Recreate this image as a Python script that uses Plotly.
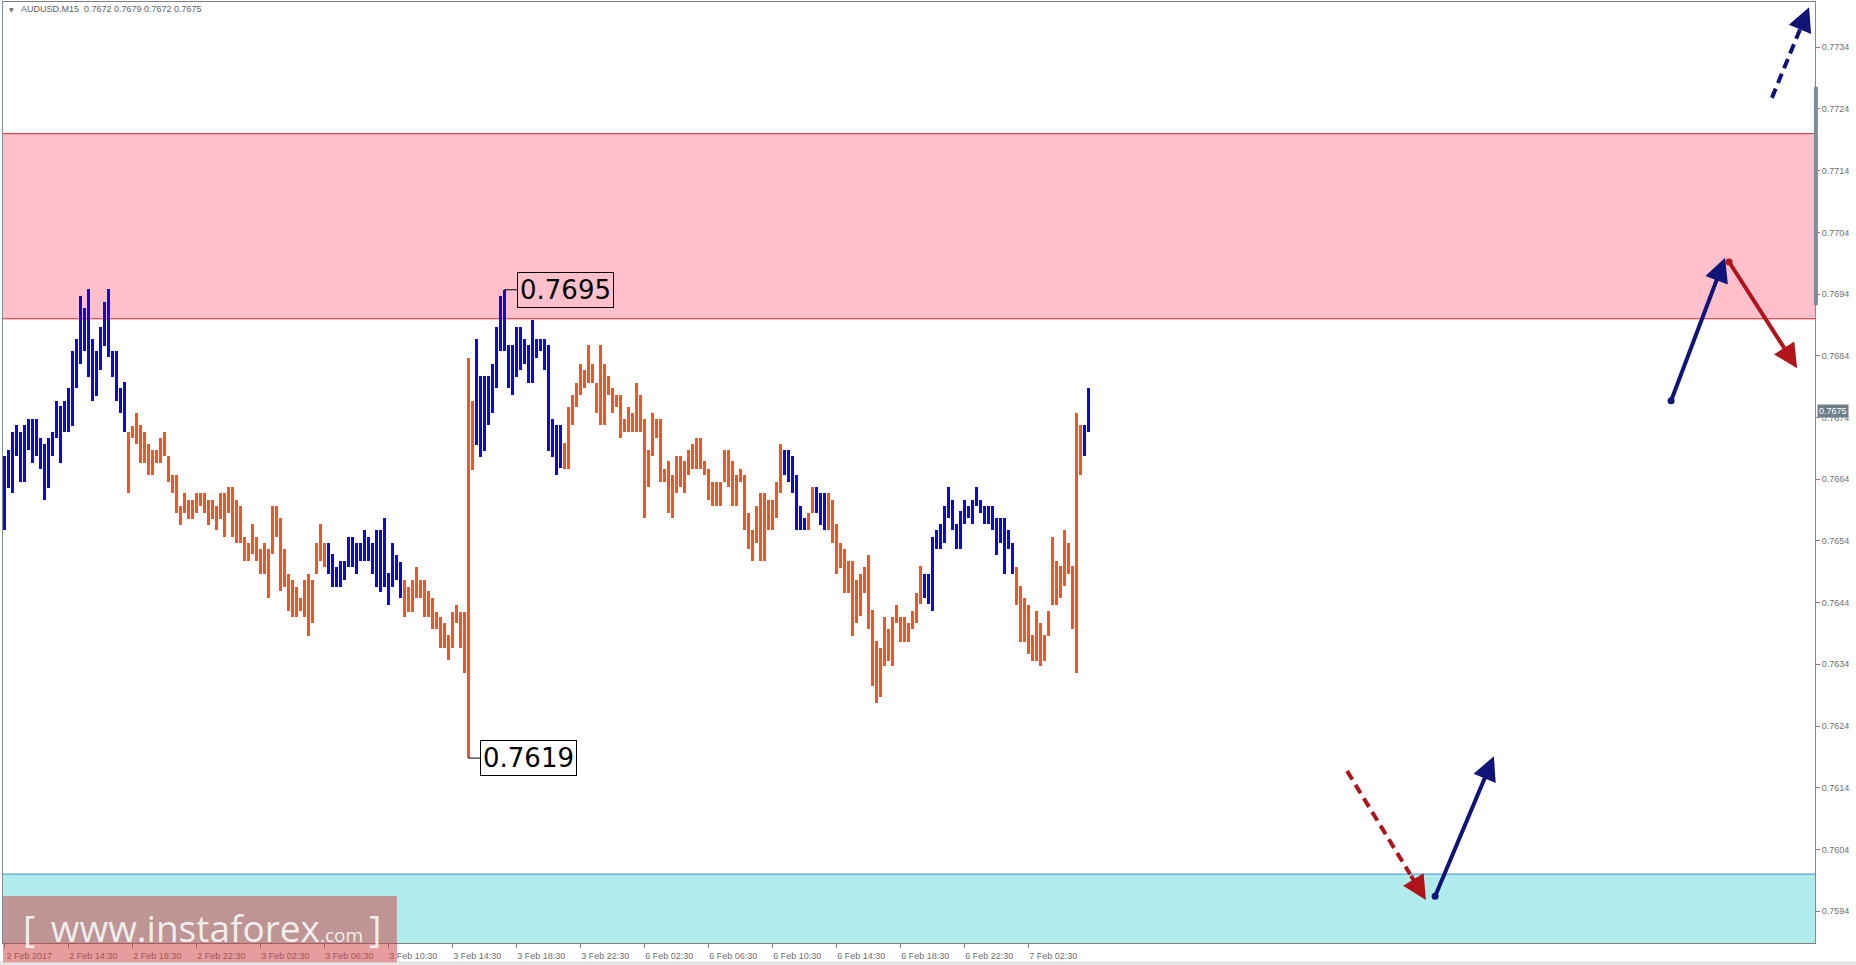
import plotly.graph_objects as go

# ---------------- data ----------------
high = [0.76678, 0.76687, 0.76716, 0.76728, 0.76716, 0.76728, 0.76737, 0.76737, 0.76737, 0.76706,
        0.76697, 0.76706, 0.76716, 0.76766, 0.76758, 0.76766, 0.76787, 0.76848, 0.76867, 0.76937,
        0.76917, 0.76948, 0.76867, 0.76848, 0.76886, 0.76928, 0.76948, 0.76848, 0.76848, 0.76787,
        0.76797, 0.76716, 0.76727, 0.76747, 0.76728, 0.76716, 0.76697, 0.76687, 0.76687, 0.76706,
        0.76716, 0.76677, 0.76647, 0.76647, 0.76597, 0.76618, 0.76607, 0.76607, 0.76618, 0.76618,
        0.76618, 0.76607, 0.76607, 0.76597, 0.76618, 0.76618, 0.76627, 0.76627, 0.76607, 0.76597,
        0.76546, 0.76537, 0.76567, 0.76546, 0.76527, 0.76537, 0.76527, 0.76597, 0.76597, 0.76577,
        0.76527, 0.76486, 0.76477, 0.76466, 0.76447, 0.76477, 0.76486, 0.76477, 0.76537, 0.76567,
        0.76537, 0.76537, 0.76518, 0.76497, 0.76507, 0.76507, 0.76546, 0.76546, 0.76537, 0.76537,
        0.76558, 0.76546, 0.76537, 0.76558, 0.76558, 0.76577, 0.76488, 0.76536, 0.76517, 0.76506,
        0.76477, 0.76466, 0.76477, 0.76497, 0.76477, 0.76477, 0.76458, 0.76447, 0.76425, 0.76417,
        0.76407, 0.76388, 0.76425, 0.76436, 0.76425, 0.76425, 0.76837, 0.76767, 0.76867, 0.76807,
        0.76807, 0.76807, 0.76827, 0.76887, 0.76937, 0.76947, 0.76857, 0.76857, 0.76887, 0.76887,
        0.76867, 0.76857, 0.76898, 0.76867, 0.76867, 0.76867, 0.76857, 0.76737, 0.76728, 0.76728,
        0.76698, 0.76757, 0.76776, 0.76796, 0.76827, 0.76817, 0.76857, 0.76827, 0.76796, 0.76857,
        0.76827, 0.76807, 0.76787, 0.76776, 0.76776, 0.76737, 0.76757, 0.76747, 0.76796, 0.76776,
        0.76737, 0.76688, 0.76747, 0.76737, 0.76737, 0.76656, 0.76669, 0.76647, 0.76678, 0.76678,
        0.76669, 0.76688, 0.76697, 0.76706, 0.76706, 0.76669, 0.76656, 0.76636, 0.76636, 0.76636,
        0.76688, 0.76688, 0.76669, 0.76647, 0.76656, 0.76647, 0.76586, 0.76557, 0.76597, 0.76617,
        0.76617, 0.76607, 0.76607, 0.76636, 0.76697, 0.76688, 0.76688, 0.76678, 0.76647, 0.76597,
        0.76577, 0.76586, 0.76627, 0.76627, 0.76617, 0.76617, 0.76617, 0.76607, 0.76568, 0.76536,
        0.76527, 0.76507, 0.76507, 0.76477, 0.76486, 0.76498, 0.76517, 0.76428, 0.76377, 0.76366,
        0.76417, 0.76397, 0.76417, 0.76436, 0.76417, 0.76417, 0.76407, 0.76427, 0.76456, 0.76499,
        0.76486, 0.76486, 0.76547, 0.76558, 0.76568, 0.76597, 0.76627, 0.76607, 0.76568, 0.76588,
        0.76607, 0.76597, 0.76607, 0.76627, 0.76607, 0.76597, 0.76597, 0.76597, 0.76577, 0.76577,
        0.76577, 0.76557, 0.76536, 0.76497, 0.76467, 0.76447, 0.76436, 0.76388, 0.76427, 0.76407,
        0.76388, 0.76427, 0.76547, 0.76507, 0.76499, 0.76558, 0.76536, 0.76499, 0.76747, 0.76728,
        0.76728, 0.76787]

low = [0.76558, 0.76625, 0.76617, 0.76677, 0.76636, 0.76636, 0.76687, 0.76667, 0.76677, 0.76656,
       0.76606, 0.76626, 0.76677, 0.76706, 0.76667, 0.76716, 0.76716, 0.76727, 0.76787, 0.76826,
       0.76847, 0.76806, 0.76766, 0.76775, 0.76817, 0.76856, 0.76838, 0.76806, 0.76766, 0.76747,
       0.76716, 0.76617, 0.76706, 0.76697, 0.76667, 0.76667, 0.76647, 0.76647, 0.76667, 0.76667,
       0.76677, 0.76636, 0.76617, 0.76586, 0.76566, 0.76586, 0.76576, 0.76576, 0.76586, 0.76596,
       0.76586, 0.76566, 0.76576, 0.76557, 0.76576, 0.76546, 0.76586, 0.76546, 0.76537, 0.76537,
       0.76507, 0.76507, 0.76518, 0.76507, 0.76486, 0.76486, 0.76447, 0.76518, 0.76547, 0.76458,
       0.76466, 0.76426, 0.76416, 0.76416, 0.76426, 0.76416, 0.76386, 0.76407, 0.76486, 0.76507,
       0.76497, 0.76486, 0.76466, 0.76466, 0.76466, 0.76477, 0.76497, 0.76497, 0.76486, 0.76507,
       0.76507, 0.76507, 0.76486, 0.76466, 0.76457, 0.76466, 0.76436, 0.76466, 0.76477, 0.76447,
       0.76417, 0.76425, 0.76425, 0.76447, 0.76447, 0.76417, 0.76417, 0.76397, 0.76397, 0.76366,
       0.76366, 0.76347, 0.76366, 0.76407, 0.76366, 0.76326, 0.76188, 0.76655, 0.76695, 0.76676,
       0.76686, 0.76728, 0.76747, 0.76787, 0.76847, 0.76847, 0.76787, 0.76776, 0.76806, 0.76817,
       0.76827, 0.76796, 0.76796, 0.76837, 0.76847, 0.76817, 0.76686, 0.76676, 0.76647, 0.76658,
       0.76656, 0.76656, 0.76728, 0.76757, 0.76776, 0.76787, 0.76796, 0.76796, 0.76747, 0.76728,
       0.76728, 0.76776, 0.76747, 0.76757, 0.76706, 0.76717, 0.76717, 0.76717, 0.76717, 0.76717,
       0.76577, 0.76627, 0.76678, 0.76706, 0.76636, 0.76636, 0.76586, 0.76577, 0.76617, 0.76627,
       0.76617, 0.76647, 0.76656, 0.76656, 0.76656, 0.76647, 0.76607, 0.76597, 0.76597, 0.76597,
       0.76636, 0.76627, 0.76597, 0.76597, 0.76636, 0.76557, 0.76527, 0.76507, 0.76536, 0.76507,
       0.76507, 0.76557, 0.76557, 0.76577, 0.76617, 0.76647, 0.76636, 0.76617, 0.76557, 0.76557,
       0.76557, 0.76557, 0.76586, 0.76586, 0.76566, 0.76557, 0.76557, 0.76536, 0.76486, 0.76496,
       0.76456, 0.76456, 0.76386, 0.76407, 0.76418, 0.76456, 0.76397, 0.76305, 0.76277, 0.76287,
       0.76337, 0.76346, 0.76337, 0.76407, 0.76376, 0.76376, 0.76376, 0.76397, 0.76407, 0.76437,
       0.76447, 0.76437, 0.76427, 0.76527, 0.76527, 0.76536, 0.76577, 0.76557, 0.76527, 0.76527,
       0.76568, 0.76577, 0.76568, 0.76597, 0.76586, 0.76568, 0.76568, 0.76557, 0.76517, 0.76536,
       0.76486, 0.76527, 0.76486, 0.76436, 0.76376, 0.76376, 0.76356, 0.76346, 0.76346, 0.76337,
       0.76346, 0.76386, 0.76436, 0.76436, 0.76447, 0.76467, 0.76486, 0.76397, 0.76326, 0.76647,
       0.76677, 0.76717]

# bar-index runs drawn in blue (the rest orange)
blue_runs = [(0, 30), (81, 99), (118, 139), (195, 200), (203, 205), (230, 252), (270, 271)]

# x-axis labels and the bar index they sit on
tick_bars = [0, 16, 32, 48, 64, 80, 96, 112, 128, 144, 160, 176, 192, 208, 224, 240, 256]
tick_labels = ["2 Feb 2017", "2 Feb 14:30", "2 Feb 18:30", "2 Feb 22:30", "3 Feb 02:30",
               "3 Feb 06:30", "3 Feb 10:30", "3 Feb 14:30", "3 Feb 18:30", "3 Feb 22:30",
               "6 Feb 02:30", "6 Feb 06:30", "6 Feb 10:30", "6 Feb 14:30", "6 Feb 18:30",
               "6 Feb 22:30", "7 Feb 02:30"]

price_ticks = [0.7594, 0.7604, 0.7614, 0.7624, 0.7634, 0.7644, 0.7654, 0.7664,
               0.7674, 0.7684, 0.7694, 0.7704, 0.7714, 0.7724, 0.7734]

resistance_zone = (0.7690, 0.7720)
support_zone_top = 0.7600
last_price = 0.7675
header_text = "AUDUSD,M15  0.7672 0.7679 0.7672 0.7675"
marked_high = (125, "0.7695")
marked_low = (116, "0.7619")

# forecast arrows: (tail bar, tail price), (tip bar, tip price), colour key, dashed, dot at tail
forecast_arrows = [
    ((441.9, 0.77258), (451.2, 0.77405), "navy", True, False),
    ((416.7, 0.76767), (430.2, 0.76999), "navy", False, True),
    ((431.2, 0.76992), (448.2, 0.76820), "red", False, True),
    ((335.7, 0.76167), (355.4, 0.75958), "red", True, False),
    ((357.7, 0.75964), (372.4, 0.76191), "navy", False, True),
]

# ---------------- styling ----------------
BLUE = "#0a0ae0"
ORANGE = "#f0561e"
ARROW_COL = {"navy": "#101478", "red": "#b0141a"}
X_RANGE = [-0.325, 452.675]
Y_RANGE = [0.758883, 0.774134]
AXIS_FONT = dict(family="Liberation Sans, Arial, sans-serif", size=9, color="#707070")

idx = list(range(len(high)))
colors = [BLUE if any(a <= i <= b for a, b in blue_runs) else ORANGE for i in idx]

fig = go.Figure()
fig.add_trace(go.Bar(
    x=idx, y=[h - l for h, l in zip(high, low)], base=low, width=0.72,
    marker=dict(color=colors, line=dict(width=0)),
    hoverinfo="skip", showlegend=False,
))

shapes = []
# resistance (pink) zone
shapes.append(dict(type="rect", xref="paper", yref="y", x0=0, x1=1,
                   y0=resistance_zone[0], y1=resistance_zone[1],
                   fillcolor="#ffc0cb", line=dict(width=0), layer="below"))
for yv in resistance_zone:
    shapes.append(dict(type="line", xref="paper", yref="y", x0=0, x1=1, y0=yv, y1=yv,
                       line=dict(color="#d8262c", width=1), layer="below"))
# support (cyan) zone
shapes.append(dict(type="rect", xref="paper", yref="y", x0=0, x1=1,
                   y0=Y_RANGE[0], y1=support_zone_top,
                   fillcolor="#b0ecec", line=dict(width=0), layer="below"))
shapes.append(dict(type="line", xref="paper", yref="y", x0=0, x1=1,
                   y0=support_zone_top, y1=support_zone_top,
                   line=dict(color="#3d8fd0", width=1), layer="below"))

annotations = []
dots_x, dots_y, dots_c = [], [], []
for (tx, ty), (hx, hy), ck, dashed, dot in forecast_arrows:
    col = ARROW_COL[ck]
    if dashed:
        fx = tx + (hx - tx) * 0.80
        fy = ty + (hy - ty) * 0.80
        shapes.append(dict(type="line", xref="x", yref="y", x0=tx, y0=ty, x1=fx, y1=fy,
                           line=dict(color=col, width=4, dash="10px,6px")))
        annotations.append(dict(x=hx, y=hy, ax=fx, ay=fy, xref="x", yref="y",
                                axref="x", ayref="y", text="", showarrow=True,
                                arrowhead=2, arrowsize=1.2, arrowwidth=4, arrowcolor=col))
    else:
        annotations.append(dict(x=hx, y=hy, ax=tx, ay=ty, xref="x", yref="y",
                                axref="x", ayref="y", text="", showarrow=True,
                                arrowhead=2, arrowsize=1.2, arrowwidth=4, arrowcolor=col))
    if dot:
        dots_x.append(tx)
        dots_y.append(ty)
        dots_c.append(col)

fig.add_trace(go.Scatter(x=dots_x, y=dots_y, mode="markers",
                         marker=dict(size=7, color=dots_c), hoverinfo="skip",
                         showlegend=False, cliponaxis=False))

# labelled extremes
LABEL_FONT = dict(family="DejaVu Sans, Verdana, sans-serif", size=26, color="#000000")
annotations.append(dict(x=marked_high[0], y=high[marked_high[0]], xref="x", yref="y",
                        text=marked_high[1], showarrow=True, ax=61, ay=0, arrowhead=0,
                        arrowwidth=1, arrowcolor="#000000", standoff=0,
                        bordercolor="#000000", borderwidth=1, borderpad=2,
                        bgcolor="rgba(0,0,0,0)", font=LABEL_FONT))
annotations.append(dict(x=marked_low[0], y=low[marked_low[0]], xref="x", yref="y",
                        text=marked_low[1], showarrow=True, ax=60, ay=0, arrowhead=0,
                        arrowwidth=1, arrowcolor="#000000", standoff=0,
                        bordercolor="#000000", borderwidth=1, borderpad=2,
                        bgcolor="rgba(0,0,0,0)", font=LABEL_FONT))

# current price tag on the price scale
annotations.append(dict(x=1, y=last_price, xref="paper", yref="y", xanchor="left",
                        yanchor="middle", xshift=2, text=f"{last_price:.4f}",
                        showarrow=False, bgcolor="#6f7e89", borderpad=1,
                        font=dict(family="Liberation Sans, Arial, sans-serif", size=9,
                                  color="#ffffff")))
# thick grey piece on the price scale line
shapes.append(dict(type="rect", xref="paper", yref="y", x0=0.9994, x1=1.0016,
                   y0=0.76922, y1=0.77276, fillcolor="#7d8d98", line=dict(width=0),
                   layer="above"))

# header
annotations.append(dict(x=0.0022, y=0.9925, xref="paper", yref="paper", xanchor="left",
                        yanchor="middle", text="\u25bc", showarrow=False,
                        font=dict(family="DejaVu Sans, sans-serif", size=6, color="#707070")))
annotations.append(dict(x=0.0090, y=0.9925, xref="paper", yref="paper", xanchor="left",
                        yanchor="middle", text=header_text, showarrow=False,
                        font=dict(family="Liberation Sans, Arial, sans-serif", size=9,
                                  color="#606060")))

# watermark
shapes.append(dict(type="rect", xref="paper", yref="paper", x0=0, x1=0.2174,
                   y0=-0.0205, y1=0.050, fillcolor="rgba(205,60,60,0.50)",
                   line=dict(width=0), layer="above"))
annotations.append(dict(x=0.0100, y=0.017, xref="paper", yref="paper", xanchor="left",
                        yanchor="middle", showarrow=False,
                        text="[\u00a0\u2009www.instaforex<span style='font-size:19px'>.com</span>\u2009]",
                        font=dict(family="Open Sans, sans-serif", size=37,
                                  color="rgba(246,250,250,0.9)")))

# bottom grey strip
shapes.append(dict(type="rect", xref="paper", yref="paper", x0=-0.01, x1=1.03,
                   y0=-0.0195, y1=-0.03, fillcolor="#e6e6e6", line=dict(width=0),
                   layer="below"))

fig.update_layout(
    width=1856, height=965,
    margin=dict(l=3, r=41, t=2, b=22),
    paper_bgcolor="#ffffff", plot_bgcolor="#ffffff",
    bargap=0, barmode="overlay",
    shapes=shapes, annotations=annotations,
    showlegend=False,
    xaxis=dict(range=X_RANGE, tickvals=tick_bars, ticktext=tick_labels,
               ticks="outside", ticklen=4, tickcolor="#808080", tickfont=AXIS_FONT,
               ticklabelshift=25, ticklabelstandoff=0,
               showgrid=False, zeroline=False, showline=True, linecolor="#7f7f7f",
               linewidth=1, mirror=True, fixedrange=True),
    yaxis=dict(range=Y_RANGE, side="right", tickvals=price_ticks,
               ticktext=[f"{v:.4f}" for v in price_ticks],
               ticks="outside", ticklen=4, tickcolor="#808080", tickfont=AXIS_FONT,
               showgrid=False, zeroline=False, showline=True, linecolor="#7f8b95",
               linewidth=1, mirror=True, fixedrange=True),
)

fig.write_html("out.html", config={"displayModeBar": False},
               post_script="document.body.style.margin='0';document.body.style.overflow='hidden';")
